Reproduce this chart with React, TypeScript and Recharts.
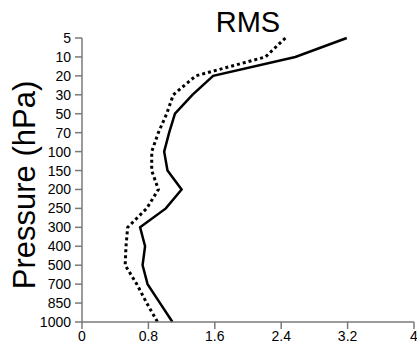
import React from "react";
import { LineChart, Line, XAxis, YAxis } from "recharts";

const levels = ["5", "10", "20", "30", "50", "70", "100", "150", "200", "250", "300", "400", "500", "700", "850", "1000"];
const solidRms = [3.19, 2.57, 1.58, 1.33, 1.12, 1.05, 0.99, 1.03, 1.2, 1.01, 0.7, 0.76, 0.73, 0.79, 0.94, 1.09];
const dottedRms = [2.45, 2.21, 1.37, 1.1, 1.02, 0.92, 0.84, 0.84, 0.92, 0.78, 0.55, 0.53, 0.52, 0.66, 0.78, 0.91];
const xTicks = [0, 0.8, 1.6, 2.4, 3.2, 4];

const data = levels.map((p, i) => ({ p, solid: solidRms[i], dotted: dottedRms[i] }));

const FONT = "'Liberation Sans', Arial, Helvetica, sans-serif";
const AXIS = "#7a7a7a";

export default function App() {
  return (
    <div style={{ position: "absolute", left: 0, top: 0, width: 417, height: 350, background: "#fff" }}>
      <LineChart
        layout="vertical"
        width={417}
        height={350}
        data={data}
        margin={{ top: 38, right: 3, bottom: 0, left: 0 }}
        style={{ fontFamily: FONT }}
      >
        <XAxis
          type="number"
          domain={[0, 4]}
          ticks={xTicks}
          interval={0}
          height={28}
          stroke={AXIS}
          strokeWidth={1.5}
          tickSize={7}
          tickMargin={2}
          tick={{ fill: "#000", fontSize: 14, fontFamily: FONT }}
          tickLine={{ stroke: AXIS, strokeWidth: 1.5 }}
        />
        <YAxis
          type="category"
          dataKey="p"
          scale="point"
          width={82}
          interval={0}
          stroke={AXIS}
          strokeWidth={1.5}
          tickSize={7}
          tickMargin={4}
          tick={{ fill: "#000", fontSize: 14, fontFamily: FONT }}
          tickLine={{ stroke: AXIS, strokeWidth: 1.5 }}
        />
        <Line
          dataKey="dotted"
          stroke="#000"
          strokeWidth={3}
          strokeDasharray="3 3"
          dot={false}
          isAnimationActive={false}
        />
        <Line dataKey="solid" stroke="#000" strokeWidth={2.5} dot={false} isAnimationActive={false} />
        <text x={248} y={32} textAnchor="middle" fontSize={29} fontFamily={FONT} fill="#000">
          RMS
        </text>
        <text
          x={35}
          y={185}
          textAnchor="middle"
          fontSize={31}
          fontFamily={FONT}
          fill="#000"
          transform="rotate(-90, 35, 185)"
        >
          Pressure (hPa)
        </text>
      </LineChart>
    </div>
  );
}
